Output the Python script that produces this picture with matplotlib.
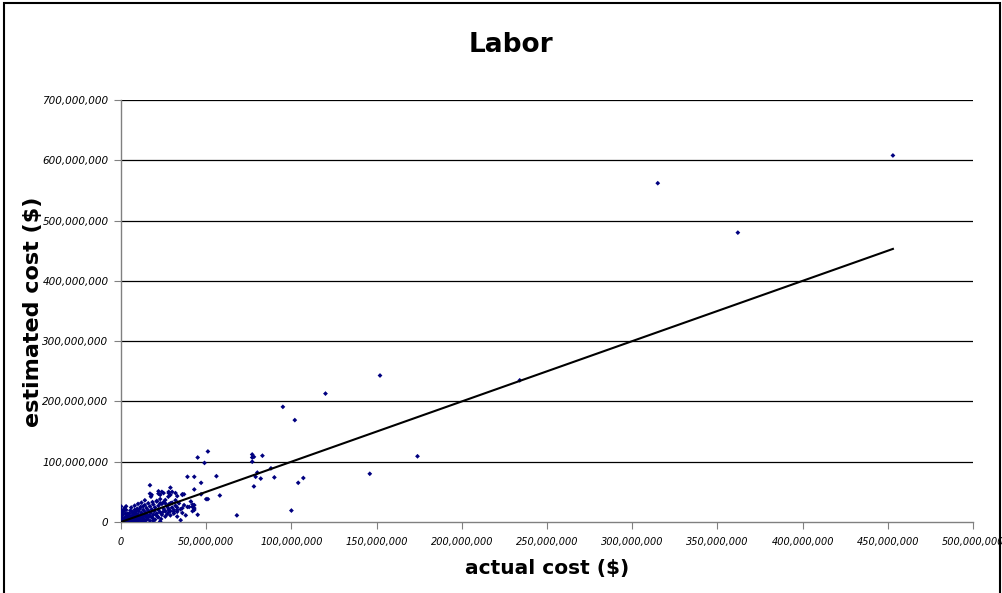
import numpy as np
import matplotlib
matplotlib.use("Agg")
import matplotlib.pyplot as plt
from matplotlib.ticker import FuncFormatter, MultipleLocator
from matplotlib.patches import Rectangle

# actual vs estimated labor cost, in millions of dollars
actual_m = [
    # large projects
    453, 315, 362, 234, 152, 120, 174, 146,
    # mid range
    95, 102, 51, 45, 49, 77, 78, 77, 83, 77, 88, 80, 56, 79, 82, 90, 39, 43,
    107, 104, 47, 78, 43, 58, 100, 68, 35, 45, 17, 29, 30, 37, 36, 47, 42, 42,
    43, 40, 50, 51, 32, 28, 28, 31, 29, 33, 33, 0,
    24, 23, 25, 28, 29, 32, 33, 36, 21, 23, 26, 29, 31, 33, 36, 39, 41, 43,
    43, 42, 22, 22, 28, 17, 18, 17.6, 26, 27.8,
    # dense cluster near the origin
    0.5, 1, 1.5, 2, 2, 2.5, 3, 3, 3.5, 4, 4, 4.5, 5, 5, 5, 5.5, 6, 6, 6.5, 6.5,
    7, 7, 7.5, 7.5, 8, 8, 8.5, 8.5, 9, 9, 9.5, 9.5, 10, 10, 10.5, 11, 11, 11.5,
    12, 12, 12.5, 13, 13, 13.5, 14, 14, 14.5, 15, 15, 15.5, 16, 16, 16.5, 17,
    17, 17.5, 18, 18, 18.5, 19, 19, 19.5, 20, 20, 21, 21, 21.5, 22, 22, 23, 23,
    23.5, 24, 24, 25, 25, 26, 26, 27, 27, 28, 28, 29, 30, 30, 31, 32, 33, 34,
    35, 36, 37, 38, 1, 1.5, 2, 0.5, 0.3, 3, 3.5, 4, 1, 2.5, 5.5, 6, 7, 8, 9, 10,
    11, 12, 13, 14, 3, 0.2, 3, 6, 10, 14, 19, 23, 0.8, 1.8, 2.8, 4.2, 5.2, 6.2,
    7.2, 8.2, 9.2, 11.2, 12.4, 13.6, 15.2, 16.4, 18.6, 20.4, 21.8, 24.6,
]
estimated_m = [
    608, 562, 480, 235, 243, 213, 109, 80,
    191, 169, 117, 107, 98, 112, 108, 107, 110, 100, 89, 82, 76, 75, 72, 74, 75, 75,
    73, 65, 65, 59, 54, 44, 19, 11, 3, 12, 61, 57, 50, 46, 45, 46, 29, 25,
    28, 25, 38, 38, 36, 20, 16, 17, 18, 24, 20, 26,
    50, 45, 48, 48, 45, 48, 43, 46, 34, 31, 31, 31, 20, 17, 23, 25, 34, 20,
    23, 18, 47, 51, 50, 47, 45, 42, 36.5, 42,
    1, 3, 0.5, 5, 2, 8, 1, 4, 11, 2, 6, 9, 0.5, 3, 14, 7, 2, 10, 5, 17,
    1, 8, 12, 4, 20, 6, 2, 15, 10, 0.5, 7, 22, 3, 13, 18, 5, 9, 25,
    1, 15, 11, 20, 6, 3, 28, 17, 9, 13, 23, 5, 31, 19, 11, 2,
    26, 15, 21, 8, 33, 12, 29, 18, 4, 24, 14, 35, 9, 20, 27, 16, 38,
    5, 30, 12, 22, 33, 18, 9, 26, 13, 29, 22, 11, 24, 32, 14, 27, 9, 31,
    21, 15, 28, 11, 12, 18, 23, 8, 15, 20, 13, 14, 6, 14, 19, 24, 15, 27, 18, 30,
    22, 32, 26, 36, 26, 20, 0.2, 0.3, 0.2, 1, 2, 1, 3.5, 1.2, 6, 2.5, 4.4, 1.6,
    9.5, 3, 5.8, 7.4, 2.2, 10.6, 4.4, 8.8, 6.4, 12.2, 7.8, 16.5,
]

actual = np.array(actual_m) * 1e6
estimated = np.array(estimated_m) * 1e6

fig = plt.figure(figsize=(10.03, 5.93), dpi=100)
ax = fig.add_axes([121 / 1003, 71 / 593, 852 / 1003, 422 / 593])

# horizontal gridlines
for v in range(100, 800, 100):
    ax.axhline(v * 1e6, color="black", lw=0.9, zorder=1)

ax.scatter(actual, estimated, marker="D", s=6, color="#000080",
           edgecolors="none", zorder=3)

# trend line (estimated = actual)
fit_x = np.array([0, max(actual)])
ax.plot(fit_x, fit_x, color="black", lw=1.5, zorder=4)

ax.set_xlim(0, 500e6)
ax.set_ylim(0, 700e6)
ax.xaxis.set_major_locator(MultipleLocator(50e6))
ax.yaxis.set_major_locator(MultipleLocator(100e6))
fmt = FuncFormatter(lambda v, p: f"{int(round(v)):,}")
ax.xaxis.set_major_formatter(fmt)
ax.yaxis.set_major_formatter(fmt)
ax.tick_params(axis="x", direction="out", length=5, width=0.8, color="#808080",
               labelsize=7, pad=6)
ax.tick_params(axis="y", direction="out", length=5, width=0.8, color="#808080",
               labelsize=7.5, pad=4)
for lab in ax.get_yticklabels():
    lab.set_fontstyle("italic")
for lab in ax.get_xticklabels():
    lab.set_fontstyle("italic")

for s in ["top", "right"]:
    ax.spines[s].set_visible(False)
for s in ["left", "bottom"]:
    ax.spines[s].set_color("#808080")
    ax.spines[s].set_linewidth(1.0)

fig.text(0.509, 0.924, "Labor", fontsize=19, fontweight="bold", ha="center", va="center")
fig.text(0.545, 0.042, "actual cost ($)", fontsize=14.5, fontweight="bold",
         ha="center", va="center")
fig.text(0.033, 0.475, "estimated cost ($)", fontsize=16, fontweight="bold",
         ha="center", va="center", rotation=90)

# chart border
fig.patches.append(Rectangle((0.004, -0.01), 0.993, 1.005, transform=fig.transFigure,
                             fill=False, edgecolor="black", lw=1.5))

fig.savefig("out.png", dpi=100)
